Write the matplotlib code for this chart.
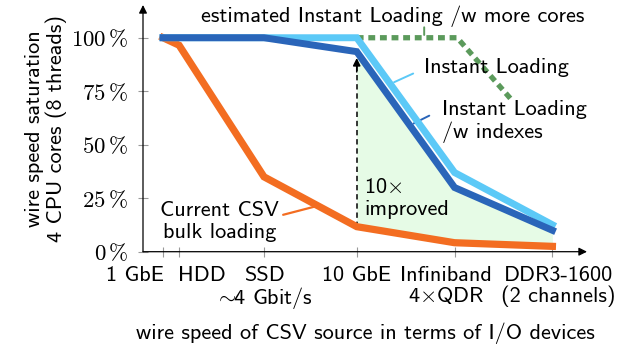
import numpy as np
import matplotlib
matplotlib.use("Agg")
import matplotlib.pyplot as plt

# --- data ---
# x positions: wire speed in Gbit/s (log axis)
devices = ["1 GbE", "HDD", "SSD", "10 GbE", "Infiniband", "DDR3-1600"]
speed_gbit = [1.0, 1.21, 3.32, 10.0, 32.0, 102.4]
device_sub = ["", "", r"$\sim\!\!$4 Gbit/s", "", r"4${\times}$QDR", "(2 channels)"]

csv_bulk = [100, 96.5, 35, 11.7, 4.2, 2.5]
instant = [100, 100, 100, 100, 37, 12.6]
instant_idx = [100, 100, 100, 93.5, 30, 10]

est_speed = [10.0, 33.0, 63.0]
est_more_cores = [100, 100, 71]

y_ticks = [0, 25, 50, 75, 100]

# --- style ---
ORANGE = "#f36d21"
LIGHT_BLUE = "#5cc9f7"
DARK_BLUE = "#2a65b9"
GREEN = "#5b9a5b"
FILL = "#e6fbe6"
FS = 16

plt.rcParams["font.family"] = ["cmss10", "DejaVu Sans"]
plt.rcParams["mathtext.fontset"] = "cm"
plt.rcParams["axes.unicode_minus"] = False

W, H = 626, 349
fig = plt.figure(figsize=(W / 100, H / 100), dpi=100)
ax = fig.add_axes([143 / W, (H - 251.7) / H, (587 - 143) / W, (251.7 - 5) / H])
ax.set_xscale("log")
ax.set_xlim(0.788, 154.5)
ax.set_ylim(0, 115.3)
for s in ax.spines.values():
    s.set_visible(False)

# axis arrows
ax.annotate("", xy=(1, 0), xytext=(0, 0), xycoords="axes fraction",
            arrowprops=dict(arrowstyle="-|>", lw=0.9, color="k", mutation_scale=12,
                            shrinkA=0, shrinkB=0))
ax.annotate("", xy=(0, 1), xytext=(0, 0), xycoords="axes fraction",
            arrowprops=dict(arrowstyle="-|>", lw=0.9, color="k", mutation_scale=12,
                            shrinkA=0, shrinkB=0))

# shaded improvement area between bulk loading and instant loading w/ indexes
ax.fill_between(speed_gbit[3:], csv_bulk[3:], instant_idx[3:], color=FILL, lw=0, zorder=1)

# dashed "10x" arrow
ax.vlines(speed_gbit[3], csv_bulk[3], 88, colors="k", linestyles=(0, (3.5, 2.5)), lw=1.1, zorder=2)
ax.annotate("", xy=(speed_gbit[3], 90.5), xytext=(speed_gbit[3], 84),
            arrowprops=dict(arrowstyle="-|>", lw=1.1, color="k", mutation_scale=11,
                            shrinkA=0, shrinkB=0), zorder=2)

ax.plot(est_speed, est_more_cores, color=GREEN, lw=3.8, dashes=(1.3, 0.9),
        dash_capstyle="butt", zorder=3, clip_on=False)
ax.plot(speed_gbit, csv_bulk, color=ORANGE, lw=5.2, solid_joinstyle="miter", zorder=4, clip_on=False)
ax.plot(speed_gbit, instant, color=LIGHT_BLUE, lw=5.0, solid_joinstyle="miter", zorder=5, clip_on=False)
ax.plot(speed_gbit, instant_idx, color=DARK_BLUE, lw=5.0, solid_joinstyle="miter", zorder=6, clip_on=False)

# ticks
ax.set_yticks(y_ticks)
ax.set_yticklabels([r"$%d\,\%%$" % v for v in y_ticks], fontsize=FS + 0.5)
ax.set_xticks(speed_gbit)
ax.set_xticklabels([])
ax.minorticks_off()
ax.tick_params(axis="both", direction="inout", length=7, width=0.8, color="#999999")
ax.tick_params(axis="y", pad=7)

# x tick labels with individual alignment like the original
xlab_tr = ax.get_xaxis_transform()
x_align = ["right", "left", "center", "center", "center", "center"]
x_shift = [1, -1, 0, 0, -6, 4.5]
for name, sub, xv, ha, dx in zip(devices, device_sub, speed_gbit, x_align, x_shift):
    label = name if not sub else name + "\n" + sub
    ax.annotate(label, xy=(xv, 0), xycoords=xlab_tr, xytext=(dx, -10.5), textcoords="offset points",
                ha=ha, va="top", multialignment="center", fontsize=FS, linespacing=1.0)

ax.set_xlabel("wire speed of CSV source in terms of I/O devices", fontsize=FS, labelpad=44)
ax.set_ylabel("wire speed saturation\n4 CPU cores (8 threads)", fontsize=FS, labelpad=3,
              linespacing=1.05)


def on_line(xs, ys, x):
    return np.interp(np.log10(x), np.log10(xs), ys)


# series labels with short pins
pin_x = 22.3
ax.annotate("", xy=(pin_x, 100), xytext=(0, 7.5), textcoords="offset points",
            arrowprops=dict(arrowstyle="-", color=GREEN, lw=1.4, shrinkA=0, shrinkB=2))
ax.annotate("estimated Instant Loading /w more cores", xy=(pin_x, 100), xytext=(-23, 7.5),
            textcoords="offset points", ha="center", va="bottom", fontsize=FS)

px = 14.9
py = on_line(speed_gbit, instant, px)
ax.annotate("", xy=(px, py), xytext=(16.5, 7.5), textcoords="offset points",
            arrowprops=dict(arrowstyle="-", color=LIGHT_BLUE, lw=1.4, shrinkA=0, shrinkB=3))
ax.annotate("Instant Loading", xy=(px, py), xytext=(24, 12), textcoords="offset points",
            ha="left", va="center", fontsize=FS)

px = 18.8
py = on_line(speed_gbit, instant_idx, px)
ax.annotate("", xy=(px, py), xytext=(14, 7), textcoords="offset points",
            arrowprops=dict(arrowstyle="-", color=DARK_BLUE, lw=1.4, shrinkA=0, shrinkB=3))
ax.annotate("Instant Loading\n/w indexes", xy=(px, py), xytext=(23.5, 3), textcoords="offset points",
            ha="left", va="center", fontsize=FS, linespacing=1.15)

px = 6.3
py = on_line(speed_gbit, csv_bulk, px)
ax.annotate("", xy=(px, py), xytext=(-25, -6.5), textcoords="offset points",
            arrowprops=dict(arrowstyle="-", color=ORANGE, lw=1.6, shrinkA=0, shrinkB=2))
ax.annotate("Current CSV\nbulk loading", xy=(px, py), xytext=(-71, -11.5), textcoords="offset points",
            ha="center", va="center", fontsize=FS, linespacing=1.2)

ax.annotate("10$\\times$\nimproved", xy=(speed_gbit[3], csv_bulk[3]), xytext=(5.5, 20),
            textcoords="offset points", ha="left", va="center", fontsize=FS, linespacing=1.2)

fig.savefig("out.png", dpi=100)
